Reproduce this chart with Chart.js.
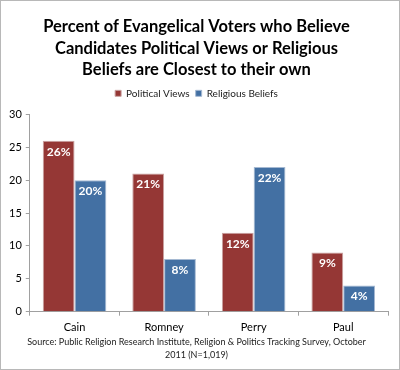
<!DOCTYPE html>
<html>
<head>
<meta charset="utf-8">
<script src="https://cdn.jsdelivr.net/npm/chart.js@4/dist/chart.umd.min.js"></script>
<style>
  html, body { margin: 0; padding: 0; background: #fff; }
  #wrap { width: 400px; height: 370px; box-sizing: border-box; border: 1px solid #b8b8b8; position: relative; }
  canvas { display: block; }
</style>
</head>
<body>
<div id="wrap"><canvas id="c"></canvas></div>
<script>
var candidates = ['Cain', 'Romney', 'Perry', 'Paul'];
var politicalViews = [26, 21, 12, 9];
var religiousBeliefs = [20, 8, 22, 4];
var yTicks = [0, 5, 10, 15, 20, 25, 30];

var fontFamily = 'Lato, "Open Sans", sans-serif';

// draws the white % labels at the top inside each bar
var barLabels = {
  id: 'barLabels',
  afterDatasetsDraw: function (chart) {
    var ctx = chart.ctx;
    ctx.save();
    ctx.fillStyle = '#ffffff';
    ctx.font = 'bold 12px ' + fontFamily;
    ctx.textAlign = 'center';
    ctx.textBaseline = 'middle';
    chart.data.datasets.forEach(function (ds, i) {
      chart.getDatasetMeta(i).data.forEach(function (bar, j) {
        ctx.fillText(ds.data[j] + '%', bar.x, bar.y + 11);
      });
    });
    ctx.restore();
  }
};

// extra room under the legend
var legendGap = {
  id: 'legendGap',
  beforeInit: function (chart) {
    var fit = chart.legend.fit;
    chart.legend.fit = function () {
      fit.bind(chart.legend)();
      this.height += 6;
    };
  }
};

new Chart(document.getElementById('c').getContext('2d'), {
  type: 'bar',
  data: {
    labels: candidates,
    datasets: [{
      label: 'Political Views',
      data: politicalViews,
      backgroundColor: '#953735',
      borderColor: '#c9a3a2',
      borderWidth: 1
    }, {
      label: 'Religious Beliefs',
      data: religiousBeliefs,
      backgroundColor: '#4370a3',
      borderColor: '#a5b9d2',
      borderWidth: 1
    }]
  },
  plugins: [barLabels, legendGap],
  options: {
    responsive: true,
    maintainAspectRatio: false,
    animation: false,
    layout: { padding: { left: 4, right: 11, top: 11, bottom: 8 } },
    datasets: { bar: { categoryPercentage: 0.71, barPercentage: 1 } },
    plugins: {
      title: {
        display: true,
        text: ['Percent of Evangelical Voters who Believe',
               'Candidates Political Views or Religious',
               'Beliefs are Closest to their own'],
        color: '#000',
        font: { family: fontFamily, size: 16.5, weight: 'bold', lineHeight: 1.3 },
        padding: { top: 4, bottom: 2 }
      },
      subtitle: {
        display: true,
        position: 'bottom',
        text: ['Source: Public Religion Research Institute, Religion & Politics Tracking Survey, October',
               '2011 (N=1,019)'],
        color: '#222',
        font: { family: fontFamily, size: 9, lineHeight: 1.4 },
        padding: { top: -4, bottom: 0 }
      },
      legend: {
        labels: {
          boxWidth: 6,
          boxHeight: 6,
          color: '#222',
          font: { family: fontFamily, size: 10 },
          padding: 6
        }
      },
      tooltip: { enabled: false }
    },
    scales: {
      x: {
        grid: { display: true, drawOnChartArea: false, offset: true, color: '#a0a0a0', tickLength: 4 },
        border: { color: '#a0a0a0' },
        ticks: { color: '#000', font: { family: fontFamily, size: 11, lineHeight: 1.1 }, padding: 6 }
      },
      y: {
        min: 0,
        max: 30,
        afterBuildTicks: function (axis) {
          axis.ticks = yTicks.map(function (v) { return { value: v }; });
        },
        grid: { display: true, drawOnChartArea: false, color: '#a0a0a0', tickLength: 4 },
        border: { color: '#a0a0a0' },
        ticks: { color: '#000', font: { family: fontFamily, size: 11 }, padding: 4 }
      }
    }
  }
});
</script>
</body>
</html>
